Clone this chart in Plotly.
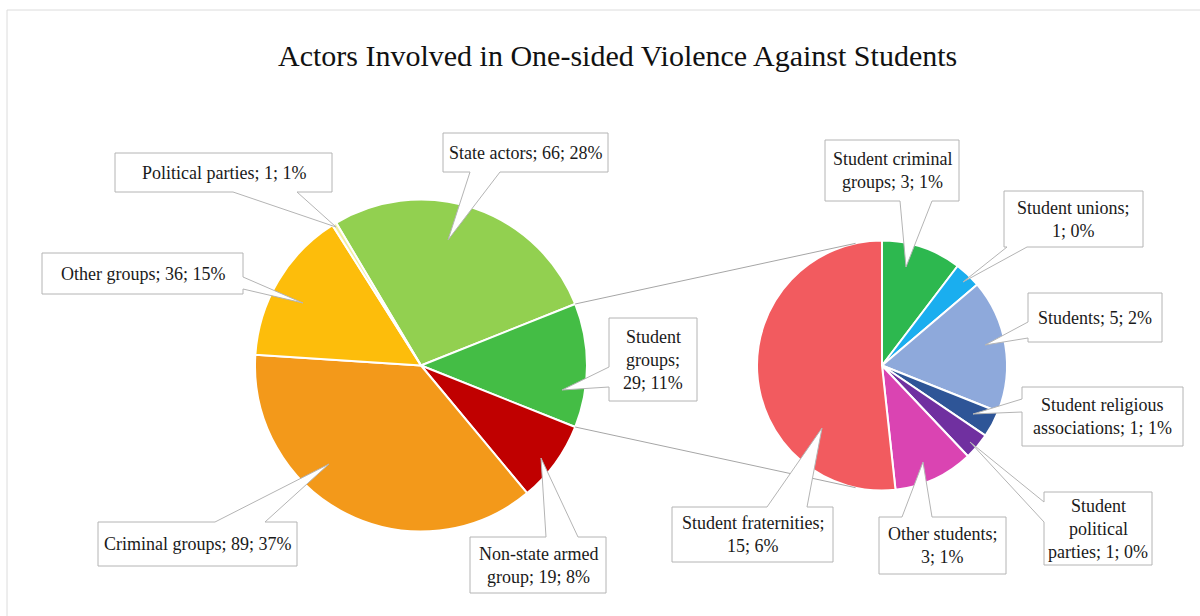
import math
import plotly.graph_objects as go

W, H = 1200, 616

# ---- data -------------------------------------------------------------
main_labels = ["State actors", "Student groups", "Non-state armed group",
               "Criminal groups", "Other groups", "Political parties"]
main_values = [66, 29, 19, 89, 36, 1]
main_pct = ["28%", "11%", "8%", "37%", "15%", "1%"]
main_colors = ["#92D050", "#44BD45", "#C00000", "#F3991A", "#FDBD0B", "#F2EFA0"]

sub_labels = ["Student criminal groups", "Student unions", "Students",
              "Student religious associations", "Student political parties",
              "Other students", "Student fraternities"]
sub_values = [3, 1, 5, 1, 1, 3, 15]
sub_pct = ["1%", "0%", "2%", "1%", "0%", "1%", "6%"]
sub_colors = ["#2DB84F", "#1AAEEF", "#8EA9DB", "#2E5597", "#7030A0", "#DA44B2", "#F25B5F"]

split_index = 1  # "Student groups" is broken out into the second pie

title_text = "Actors Involved in One-sided Violence Against Students"

# ---- geometry (pixels) -----------------------------------------------------
main_c = (421, 365.5, 166)
sub_c = (882, 365.5, 125)

FONT = "Liberation Serif"
BOX_LINE = "#B4B4B4"
CONNECT_LINE = "#A6A6A6"

# callout layout: box (x0, y0, x1, y1), side of the wedge, wedge base span,
# wedge tip, and how many words go on each text line
main_callouts = [
    dict(box=(443, 133, 608, 172), side="bottom", base=(470, 500), tip=(448, 240), words=[4]),
    dict(box=(609, 318, 697, 401), side="left", base=(367, 387), tip=(562, 390), words=[1, 1, 2]),
    dict(box=(470, 537, 606, 593), side="top", base=(546, 578), tip=(541, 458), words=[2, 3]),
    dict(box=(98, 522, 297, 566), side="top", base=(215, 265), tip=(329, 464), words=[5]),
    dict(box=(42, 253, 243, 294), side="right", base=(277, 289), tip=(303, 303), words=[4]),
    dict(box=(115, 153, 332, 192), side="bottom", base=(233, 297), tip=(336, 227), words=[4]),
]
sub_callouts = [
    dict(box=(825, 140, 959, 201), side="bottom", base=(900, 932), tip=(906, 267), words=[2, 3]),
    dict(box=(1004, 191, 1143, 247), side="bottom", base=(1007, 1027), tip=(963, 282), words=[2, 2]),
    dict(box=(1028, 293, 1162, 342), side="left", base=(322, 338), tip=(985, 345), words=[3]),
    dict(box=(1022, 387, 1183, 446), side="left", base=(399, 412), tip=(973, 414), words=[2, 3]),
    dict(box=(1044, 492, 1152, 565), side="left", base=(502, 522), tip=(970, 442), words=[1, 1, 3]),
    dict(box=(879, 517, 1006, 574), side="top", base=(902, 932), tip=(923, 462), words=[2, 2]),
    dict(box=(672, 507, 833, 562), side="top", base=(767, 807), tip=(822, 428), words=[2, 2]),
]


def domain(cx, cy, r):
    return dict(x=[(cx - r) / W, (cx + r) / W], y=[1 - (cy + r) / H, 1 - (cy - r) / H])


# the broken-out slice is centred on 3 o'clock
total = sum(main_values)
before = sum(main_values[:split_index])
main_rotation = 90 - 360 * (before + main_values[split_index] / 2) / total

fig = go.Figure()

# empty cartesian trace so shapes/annotations can use pixel-like axes
fig.add_trace(go.Scatter(x=[], y=[], showlegend=False, hoverinfo="skip"))

fig.add_trace(go.Pie(
    labels=main_labels, values=main_values, sort=False, direction="clockwise",
    rotation=main_rotation, textinfo="none", showlegend=False,
    marker=dict(colors=main_colors, line=dict(color="white", width=2)),
    domain=domain(*main_c), hoverinfo="label+value",
))
fig.add_trace(go.Pie(
    labels=sub_labels, values=sub_values, sort=False, direction="clockwise",
    rotation=0, textinfo="none", showlegend=False,
    marker=dict(colors=sub_colors, line=dict(color="white", width=2)),
    domain=domain(*sub_c), hoverinfo="label+value",
))

shapes = []
annotations = []

# chart-area frame
shapes.append(dict(type="rect", xref="x", yref="y", x0=7, y0=10, x1=1400, y1=800,
                   line=dict(color="#DCDCDC", width=1), fillcolor="rgba(0,0,0,0)", layer="below"))


# connector lines: from the edges of the broken-out slice, tangent to the second pie
def rim_point(c, ang_deg):
    cx, cy, r = c
    a = math.radians(ang_deg)
    return cx + r * math.sin(a), cy - r * math.cos(a)


def tangent_point(p, c, sign):
    px, py = p
    cx, cy, r = c
    dx, dy = cx - px, cy - py
    d = math.hypot(dx, dy)
    ang = math.atan2(dy, dx) + sign * math.asin(r / d)
    L = math.sqrt(d * d - r * r)
    return px + L * math.cos(ang), py + L * math.sin(ang)


a0 = main_rotation + 360 * before / total
a1 = a0 + 360 * main_values[split_index] / total
for ang, sign in ((a0, -1), (a1, 1)):
    p = rim_point(main_c, ang)
    q = tangent_point(p, sub_c, sign)
    shapes.append(dict(type="line", xref="x", yref="y", x0=p[0], y0=p[1], x1=q[0], y1=q[1],
                       line=dict(color=CONNECT_LINE, width=1), layer="above"))


def callout_path(spec):
    x0, y0, x1, y1 = spec["box"]
    side = spec["side"]
    b0, b1 = spec["base"]
    tx, ty = spec["tip"]
    pts = [(x0, y0)]
    if side == "top":
        pts += [(b0, y0), (tx, ty), (b1, y0)]
    pts.append((x1, y0))
    if side == "right":
        pts += [(x1, b0), (tx, ty), (x1, b1)]
    pts.append((x1, y1))
    if side == "bottom":
        pts += [(b1, y1), (tx, ty), (b0, y1)]
    pts.append((x0, y1))
    if side == "left":
        pts += [(x0, b1), (tx, ty), (x0, b0)]
    return "M " + " L ".join(f"{x:.1f},{y:.1f}" for x, y in pts) + " Z"


LINE_GAP = 23


def add_callout(spec, name, value, pct):
    shapes.append(dict(type="path", xref="x", yref="y", path=callout_path(spec),
                       fillcolor="white", line=dict(color=BOX_LINE, width=1), layer="above"))
    words = f"{name}; {value}; {pct}".split(" ")
    lines, i = [], 0
    for n in spec["words"]:
        lines.append(" ".join(words[i:i + n]))
        i += n
    x0, y0, x1, y1 = spec["box"]
    xc, yc = (x0 + x1) / 2, (y0 + y1) / 2
    for k, line in enumerate(lines):
        yy = yc + (k - (len(lines) - 1) / 2) * LINE_GAP
        annotations.append(dict(x=xc, y=yy, xref="x", yref="y", text=line, showarrow=False,
                                xanchor="center", yanchor="middle",
                                font=dict(family=FONT, size=18, color="#1A1A1A")))


for spec, n, v, p in zip(main_callouts, main_labels, main_values, main_pct):
    add_callout(spec, n, v, p)
for spec, n, v, p in zip(sub_callouts, sub_labels, sub_values, sub_pct):
    add_callout(spec, n, v, p)

annotations.append(dict(x=617, y=55, xref="x", yref="y", text=title_text, showarrow=False,
                        xanchor="center", yanchor="middle",
                        font=dict(family=FONT, size=30, color="#111111")))

fig.update_layout(
    width=W, height=H,
    margin=dict(l=0, r=0, t=0, b=0),
    paper_bgcolor="white", plot_bgcolor="white",
    xaxis=dict(range=[0, W], visible=False, fixedrange=True),
    yaxis=dict(range=[H, 0], visible=False, fixedrange=True),
    shapes=shapes, annotations=annotations,
    showlegend=False,
)

fig.write_html("out.html")
